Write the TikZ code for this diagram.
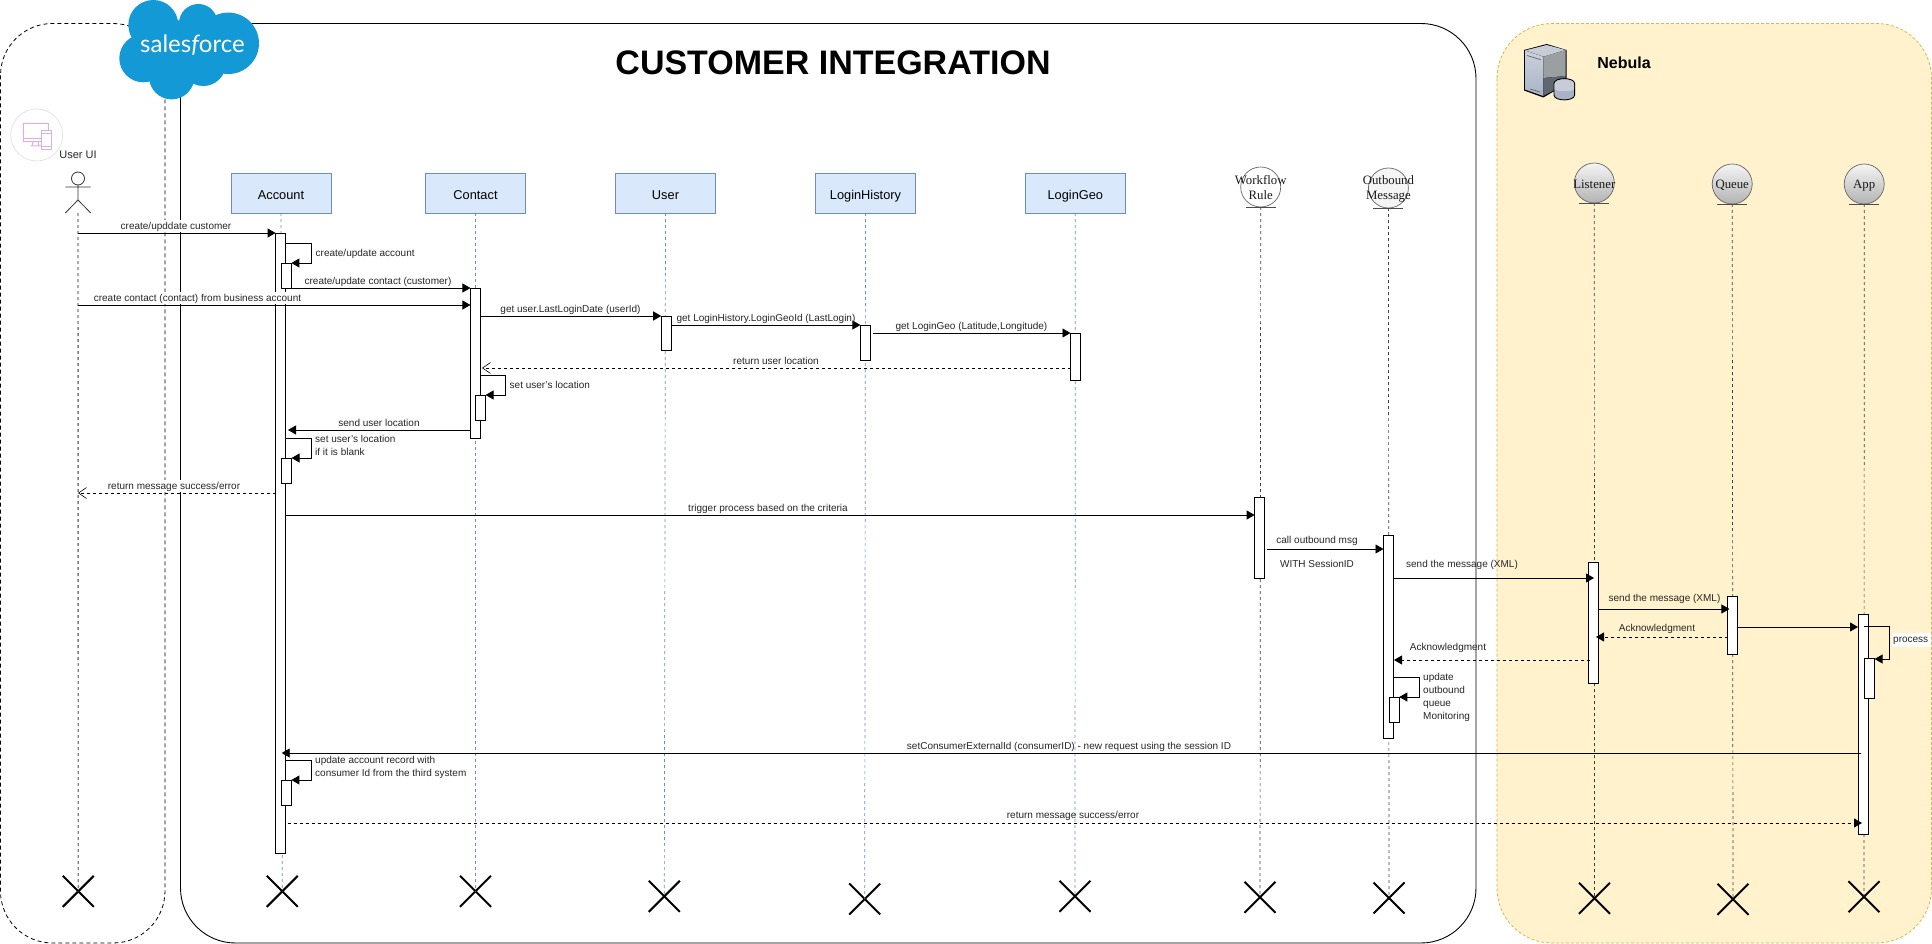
\documentclass[tikz,border=0pt]{standalone}
\usepackage{fontspec}
\setmainfont{Liberation Sans}
\newfontfamily\serifface{Liberation Serif}
\newfontfamily\sfface{Lato}
\usetikzlibrary{arrows.meta,shapes.misc,calc}
\definecolor{lifeblue}{HTML}{6C8EBF}
\definecolor{boxblue}{HTML}{DAE8FC}
\definecolor{nebfill}{HTML}{FFF2CC}
\definecolor{nebline}{HTML}{D6B656}
\definecolor{sfblue}{HTML}{139AD6}
\definecolor{iconpink}{HTML}{DDB0E0}
\definecolor{srvtop}{HTML}{C8CCD6}
\definecolor{srvlt}{HTML}{CBD0DC}
\definecolor{srvlb}{HTML}{A8B4C6}
\definecolor{srvru}{HTML}{9AA0A2}
\definecolor{srvrl}{HTML}{5F6870}
\definecolor{srvcy}{HTML}{A9B2C6}
\definecolor{srvcyt}{HTML}{C7CCD8}
\tikzset{
  dsh/.style={dash pattern=on 3pt off 3pt},
  objbox/.style={draw=lifeblue,fill=boxblue,minimum width=100pt,minimum height=40pt,inner sep=0pt,outer sep=0pt,line width=0.9pt,
     font=\fontsize{12.8}{15}\selectfont,text height=13pt,text depth=0pt},
  barbox/.style={draw=black,fill=white,inner sep=0pt,outer sep=0pt,line width=0.9pt},
  lifeB/.style={draw=lifeblue,line width=0.7pt,dsh},
  lifeD/.style={draw=black!75,line width=0.7pt,dsh},
  lifeG/.style={draw=black!50,line width=1.4pt,dsh},
  xmark/.style={draw=black,cross out,line width=2pt,minimum width=31pt,minimum height=31pt,inner sep=0pt,outer sep=0pt},
  msg/.style={draw=black,line width=0.9pt,-{Triangle[length=8pt,width=9pt]}},
  retf/.style={draw=black,line width=0.9pt,dsh,-{Triangle[length=8pt,width=9pt]}},
  reto/.style={draw=black,line width=0.7pt,dsh,-{Straight Barb[length=8pt,width=11pt,line width=0.6pt]}},
  lbl/.style={font=\fontsize{10}{13}\selectfont,text=black!85,inner sep=0.5pt,text height=9.5pt,text depth=2pt},
  lblw/.style={lbl,fill=white},
  lbll/.style={font=\fontsize{10}{13}\selectfont,text=black!85,inner sep=0pt,align=left,anchor=north west},
  ent/.style={circle,draw=black!60,line width=0.7pt,minimum size=40pt,inner sep=0pt,outer sep=0pt},
  entw/.style={ent,fill=white},
  entl/.style={ent,fill=black!4},
  entg/.style={ent,top color=black!4,bottom color=black!30},
  enttxt/.style={font=\serifface\fontsize{12.8}{15}\selectfont,text=black!90,inner sep=0pt,align=center},
  baseln/.style={draw=black!70,line width=0.8pt}
}
\newcommand{\actbar}[5]{\node[barbox,minimum width={#3-#2},minimum height={#5-#4}] (#1) at ({(#2+#3)/2},{(#4+#5)/2}) {};}
\begin{document}
\begin{tikzpicture}[x=1pt,y=-1pt]
\useasboundingbox (0,0) rectangle (1932,944);
\fill[white] (0,0) rectangle (1932,944);
% containers
\draw[black,line width=0.8pt,dash pattern=on 4pt off 3pt,rounded corners=52pt] (0.5,23.5) rectangle (165,943);
\draw[black,line width=0.9pt,rounded corners=55pt] (180.5,23.5) rectangle (1476,943);
\draw[nebline,fill=nebfill,line width=0.8pt,dash pattern=on 3pt off 2pt,rounded corners=55pt] (1497,23.5) rectangle (1931.5,943);
% salesforce cloud
\fill[sfblue] (153.3,25) circle (25) (198.3,23.3) circle (19.3) (228.3,43.3) circle (30.7)
  (143.3,58.3) circle (24) (171.7,76.7) circle (22.7) (203.3,63.3) circle (22.7) (183.3,50) circle (30);
\node[text=white,font=\sfface\fontsize{24}{26}\selectfont,inner sep=0pt] (sftext) at (192.5,45) {sales{\itshape f}orce};
% title
\node[font=\fontsize{34}{38}\selectfont\bfseries,inner sep=0pt] (title) at (833,63) {CUSTOMER INTEGRATION};
\node[font=\fontsize{16}{18}\selectfont\bfseries,inner sep=0pt] (nebula) at (1624,63) {Nebula};
% server icon
\fill[black] (1524,50) -- (1546.7,44) -- (1566.5,50) -- (1566.5,84) -- (1543.3,97.5) -- (1524,90.5) -- cycle;
\fill[srvtop] (1525,50.5) -- (1546.7,45) -- (1565.5,50) -- (1543.3,56.7) -- cycle;
\fill[top color=srvlt,bottom color=srvlb] (1525,50.5) -- (1543.3,56.7) -- (1543.3,96) -- (1525,89.5) -- cycle;
\fill[srvru] (1543.3,56.7) -- (1565.5,50) -- (1565.5,76) -- (1543.3,78) -- cycle;
\fill[srvrl] (1543.3,78) -- (1565.5,76) -- (1565.5,84) -- (1543.3,96) -- cycle;
\draw[black!60,line width=0.7pt] (1527,55.5) -- (1541,59.8) (1530,89) -- (1540,92);
\draw[black,line width=0.9pt,fill=srvcy] (1554,83.5) .. controls (1554,77) and (1574.6,77) .. (1574.6,83.5) -- (1574.6,95) .. controls (1574.6,101.5) and (1554,101.5) .. (1554,95) -- cycle;
\fill[srvcyt] (1554.6,84) .. controls (1554.6,78) and (1574,78) .. (1574,84) -- (1574,89) .. controls (1574,92) and (1554.6,92) .. (1554.6,89) -- cycle;
% user UI icon
\draw[black!10,line width=0.8pt] (36.7,135) circle (26);
\draw[iconpink,line width=1pt] (23.3,123.3) rectangle (48.3,141.7) (23.3,138.3) -- (41.7,138.3) (33,141.7) -- (32,146) (38,141.7) -- (39,146) (31,146) -- (41,146);
\draw[iconpink,fill=white,line width=1pt] (41.7,131) rectangle (51.7,150) (41.7,134) -- (51.7,134) (41.7,147) -- (51.7,147);
\node[font=\fontsize{11}{13}\selectfont,inner sep=0pt,text=black!85] (userui) at (78,155) {User UI};
% actor
\node[circle,draw=black!80,line width=0.8pt,minimum size=13pt,inner sep=0pt,outer sep=0pt] (actorhead) at (78,178.5) {};
\coordinate (actorhip) at (78,200);
\coordinate (actorfoot) at (78,213);
\draw[black!80,line width=0.8pt] (actorhead.south) -- (actorhip) (65.3,187) -- (90.7,187) (65.3,213) -- (actorhip) -- (90.7,213);
% heads
\node[objbox] (account) at (281,193) {Account};
\node[objbox] (contact) at (475.5,193) {Contact};
\node[objbox] (user) at (665.5,193) {User};
\node[objbox] (history) at (865.5,193) {LoginHistory};
\node[objbox] (geo) at (1075.3,193) {LoginGeo};
\node[entw] (wf) at (1260.7,187) {};
\node[entl] (ob) at (1388.4,188) {};
\node[entg] (listener) at (1594.3,183) {};
\node[entg] (queue) at (1732.2,184) {};
\node[entg] (app) at (1864.2,184) {};
\foreach \n in {wf,ob,listener,queue,app}
  \draw[baseln] ([xshift=-15pt]\n.south) -- ([xshift=15pt]\n.south);
\node[enttxt] (wftxt) at (1260.7,188) {Workflow\\Rule};
\node[enttxt] (obtxt) at (1388.4,189) {Outbound\\Message};
\node[enttxt] (listenertxt) at (1594.3,184.5) {Listener};
\node[enttxt] (queuetxt) at (1732.2,185.5) {Queue};
\node[enttxt] (apptxt) at (1864.2,185.5) {App};
% destroy marks
\node[xmark] (xactor) at (78.3,891.3) {};
\node[xmark] (xaccount) at (282.3,891.3) {};
\node[xmark] (xcontact) at (475.5,891.3) {};
\node[xmark] (xuser) at (664.3,896.3) {};
\node[xmark] (xhistory) at (864.7,899) {};
\node[xmark] (xgeo) at (1075,896.3) {};
\node[xmark] (xwf) at (1260,897.3) {};
\node[xmark] (xob) at (1389,898) {};
\node[xmark] (xlistener) at (1594.5,898.3) {};
\node[xmark] (xqueue) at (1733,899.3) {};
\node[xmark] (xapp) at (1864,896.7) {};
% lifelines
\draw[lifeG] (actorfoot) -- (xactor.center);
\draw[lifeB] (account.south) -- (xaccount.center);
\draw[lifeB] (contact.south) -- (xcontact.center);
\draw[lifeB] (user.south) -- (xuser.center);
\draw[lifeB] (history.south) -- (xhistory.center);
\draw[lifeB] (geo.south) -- (xgeo.center);
\draw[lifeD] (wf.south) -- (xwf.center);
\draw[lifeD] (ob.south) -- (xob.center);
\draw[lifeD] (listener.south) -- (xlistener.center);
\draw[lifeD] (queue.south) -- (xqueue.center);
\draw[lifeD] (app.south) -- (xapp.center);
% activation bars
\actbar{baccount}{275.6}{285.6}{233}{853}
\actbar{baccounta}{281}{291.4}{263}{288}
\actbar{baccountb}{281.6}{291.6}{458}{483}
\actbar{baccountc}{281.4}{291.4}{780}{805}
\actbar{bcontact}{470.4}{480.4}{288}{438}
\actbar{bcontacta}{475.4}{485.6}{395}{420}
\actbar{buser}{661.2}{671.4}{316}{350}
\actbar{bhistory}{860.4}{870.6}{325}{360}
\actbar{bgeo}{1070.5}{1080.7}{333}{380}
\actbar{bwf}{1254.6}{1264.4}{497}{578}
\actbar{bob}{1383.5}{1393.5}{535}{738}
\actbar{bobA}{1389.5}{1399.3}{697}{722}
\actbar{blistener}{1588.4}{1598.7}{562}{683}
\actbar{bqueue}{1727.5}{1737.4}{596}{654}
\actbar{bapp}{1858}{1868.5}{614}{834}
\actbar{bappA}{1864}{1874.6}{658}{698}
% messages
\coordinate (actorlife) at (78,233);
\draw[msg] (actorlife) -- (baccount.west |- 0,233);
\node[lblw] (m1) at (176,226) {create/upddate customer};
\draw[msg] (baccount.east |- 0,243) -- (311.4,243) -- (311.4,263) -- (baccounta.north east);
\node[lbl,anchor=west] (m2) at (315,253) {create/update account};
\draw[msg] (baccounta.south west) -- (bcontact.north west);
\node[lblw] (m3) at (378,281) {create/update contact (customer)};
\draw[msg] (actorlife |- 0,305) -- (bcontact.west |- 0,305);
\node[lblw] (m4) at (197.5,298) {create contact (contact) from business account};
\draw[msg] (bcontact.east |- 0,316) -- (buser.north west);
\node[lbl] (m5) at (570.5,309) {get user.LastLoginDate (userId)};
\draw[msg] (buser.east |- 0,325) -- (bhistory.north west);
\node[lbl] (m6) at (766,318) {get LoginHistory.LoginGeoId (LastLogin)};
\draw[msg] (873,333) -- (bgeo.north west);
\node[lbl] (m7) at (971.4,326) {get LoginGeo (Latitude,Longitude)};
\draw[reto] (bgeo.west |- 0,368) -- (482,368);
\node[lbl] (m8) at (776,361) {return user location};
\draw[msg] (bcontact.east |- 0,375) -- (505,375) -- (505,395) -- (bcontacta.north east);
\node[lbl,anchor=west] (m9) at (509,385) {set user's location};
\draw[msg] (bcontact.west |- 0,430) -- (288,430);
\node[lbl] (m10) at (379,423) {send user location};
\draw[msg] (baccount.east |- 0,438) -- (311.7,438) -- (311.7,458) -- (baccountb.north east);
\node[lbll] (m11) at (315,435.5) {set user's location\\if it is blank};
\draw[reto] (baccount.west |- 0,493) -- (actorlife |- 0,493);
\node[lblw] (m12) at (174,486) {return message success/error};
\draw[msg] (baccount.east |- 0,515) -- (bwf.west |- 0,515);
\node[lbl] (m13) at (768,508) {trigger process based on the criteria};
\draw[msg] (1267,549) -- (bob.west |- 0,549);
\node[lbl] (m14) at (1317,540) {call outbound msg};
\node[lbl] (m15) at (1317,564) {WITH SessionID};
\draw[msg] (bob.east |- 0,578) -- (1594,578);
\node[lbl] (m16) at (1462,564) {send the message (XML)};
\draw[msg] (blistener.east |- 0,609) -- (1729.4,609);
\node[lbl] (m17) at (1664.5,598) {send the message (XML)};
\draw[retf] (bqueue.west |- 0,637) -- (1596,637);
\node[lbl] (m18) at (1657,628) {Acknowledgment};
\draw[retf] (1590,660) -- (1394,660);
\node[lbl] (m19) at (1448,647) {Acknowledgment};
\draw[msg] (bqueue.east |- 0,627) -- (bapp.west |- 0,627);
\draw[msg] (1864,626) -- (1889.5,626) -- (1889.5,659) -- (bappA.east |- 0,659);
\node[lblw,anchor=west,minimum width=39pt,minimum height=14pt,align=left,inner sep=1pt,text height=8pt] (m20) at (1892,639.5) {process\hspace{2pt}};
\draw[msg] (bob.east |- 0,677) -- (1419.4,677) -- (1419.4,697) -- (bobA.north east);
\node[lbll] (m21) at (1423,673) {update\\outbound\\queue\\Monitoring};
\draw[msg] (1861,753) -- (281.7,753);
\node[lbl] (m22) at (1069,746) {setConsumerExternalId (consumerID) - new request using the session ID};
\draw[msg] (baccount.east |- 0,760) -- (311.7,760) -- (311.7,780) -- (baccountc.north east);
\node[lbll] (m23) at (315,756.5) {update account record with\\consumer Id from the third system};
\draw[retf] (287.7,823) -- (1862,823);
\node[lbl] (m24) at (1073,815) {return message success/error};
\end{tikzpicture}
\end{document}
